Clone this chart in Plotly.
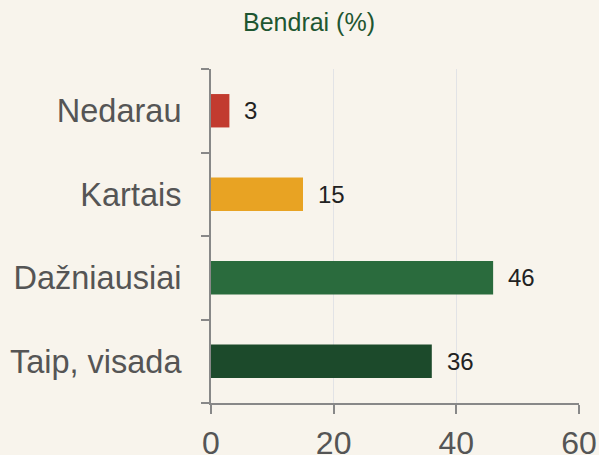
import plotly.graph_objects as go

categories = ["Nedarau", "Kartais", "Dažniausiai", "Taip, visada"]
values = [3, 15, 46, 36]
colors = ["#c23b2f", "#e8a323", "#2a6b3d", "#1c4a2b"]
x_ticks = [0, 20, 40, 60]
title_text = "Bendrai (%)"

FONT = "Liberation Sans, Arial, sans-serif"

fig = go.Figure()
fig.add_trace(go.Bar(
    y=categories, x=values, orientation="h",
    marker=dict(color=colors, line=dict(width=0)),
    width=0.4,
    hoverinfo="skip",
))

for c, v in zip(categories, values):
    fig.add_annotation(
        x=v, y=c, xref="x", yref="y", text=str(v), showarrow=False,
        xanchor="left", yanchor="middle", xshift=13,
        font=dict(family=FONT, size=24, color="#222222"),
    )

fig.update_layout(
    width=599, height=455,
    margin=dict(l=211, r=20, t=69, b=52, autoexpand=False),
    paper_bgcolor="#f8f4ec", plot_bgcolor="#f8f4ec",
    showlegend=False,
    title=dict(text=title_text, x=309 / 599, xanchor="center", xref="container",
               y=1 - 22 / 455, yanchor="middle", yref="container",
               font=dict(family=FONT, size=25, color="#1e5631")),
    font=dict(family=FONT),
)
fig.update_xaxes(
    range=[0, 60], tickvals=x_ticks, ticktext=[str(t) for t in x_ticks],
    showgrid=True, gridcolor="#e2e3e6", gridwidth=1,
    showline=True, linecolor="#888888", linewidth=2,
    ticks="outside", ticklen=9, tickwidth=2, tickcolor="#888888",
    tickfont=dict(size=32, color="#555555"),
    ticklabelstandoff=2, automargin=False,
    zeroline=False, fixedrange=True,
)
fig.update_yaxes(
    categoryorder="array", categoryarray=categories[::-1],
    range=[-0.5, 3.5],
    showgrid=False,
    showline=True, linecolor="#888888", linewidth=2,
    ticks="outside", tickson="boundaries", ticklen=8, tickwidth=2, tickcolor="#888888",
    tickfont=dict(size=32.5, color="#555555"),
    ticklabelstandoff=21, automargin=False,
    fixedrange=True,
)

fig.write_html("out.html", config={"displayModeBar": False},
               post_script="document.body.style.margin='0';document.body.style.overflow='hidden';")
